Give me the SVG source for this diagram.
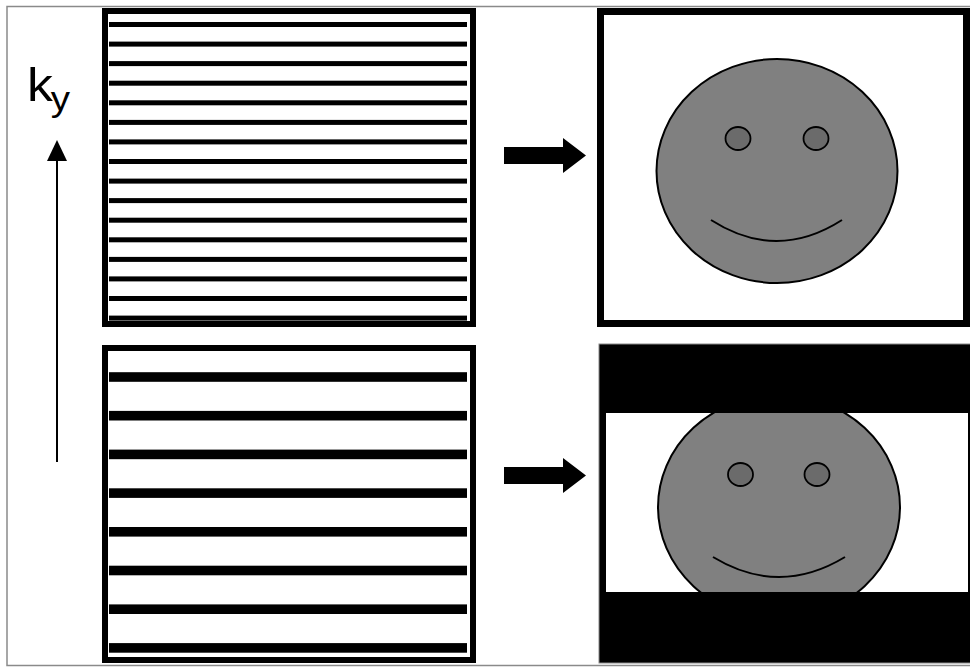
<svg xmlns="http://www.w3.org/2000/svg" width="970" height="667" viewBox="0 0 970 667">
  <style>
    .frame { fill: #ffffff; stroke: #8a8a8a; stroke-width: 1.5; }
    .panel { fill: #ffffff; stroke: #000000; stroke-width: 6; }
    .line { fill: #000000; }
    .face { fill: #808080; stroke: #000000; stroke-width: 2; }
    .eye { fill: #6b6b6b; stroke: #000000; stroke-width: 1.8; }
    .smile { fill: none; stroke: #000000; stroke-width: 2; }
    .label { font-family: "Liberation Sans", Arial, sans-serif; fill: #000000; }
    .arrow { fill: #000000; }
  </style>
  <defs>
    <clipPath id="window">
      <rect x="606" y="413" width="362" height="179"/>
    </clipPath>
  </defs>

  <!-- outer frame -->
  <rect class="frame" x="7" y="6.5" width="970" height="659"/>

  <!-- k-space axis -->
  <g id="axis">
    <text class="label" x="27" y="101" font-size="47" transform="translate(27,0) scale(1.1,1) translate(-27,0)">k<tspan font-size="35" dy="10" dx="-2">y</tspan></text>
    <line x1="57" y1="158" x2="57" y2="462" stroke="#000000" stroke-width="2"/>
    <polygon class="arrow" points="57,140 47,161 67,161"/>
  </g>

  <!-- fully sampled k-space -->
  <g id="kspace-full">
    <rect class="panel" x="105" y="11" width="368" height="313"/>
    <g class="line">
      <rect x="109" y="22" width="358" height="5"/>
      <rect x="109" y="41.6" width="358" height="5"/>
      <rect x="109" y="61.1" width="358" height="5"/>
      <rect x="109" y="80.7" width="358" height="5"/>
      <rect x="109" y="100.3" width="358" height="5"/>
      <rect x="109" y="119.9" width="358" height="5"/>
      <rect x="109" y="139.4" width="358" height="5"/>
      <rect x="109" y="159" width="358" height="5"/>
      <rect x="109" y="178.6" width="358" height="5"/>
      <rect x="109" y="198.1" width="358" height="5"/>
      <rect x="109" y="217.7" width="358" height="5"/>
      <rect x="109" y="237.3" width="358" height="5"/>
      <rect x="109" y="256.9" width="358" height="5"/>
      <rect x="109" y="276.4" width="358" height="5"/>
      <rect x="109" y="296" width="358" height="5"/>
      <rect x="109" y="315.6" width="358" height="5"/>
    </g>
  </g>

  <!-- undersampled k-space -->
  <g id="kspace-under">
    <rect class="panel" x="105" y="348" width="368" height="312"/>
    <g class="line">
      <rect x="109" y="372.2" width="358" height="9.6"/>
      <rect x="109" y="410.9" width="358" height="9.6"/>
      <rect x="109" y="449.6" width="358" height="9.6"/>
      <rect x="109" y="488.3" width="358" height="9.6"/>
      <rect x="109" y="527" width="358" height="9.6"/>
      <rect x="109" y="565.7" width="358" height="9.6"/>
      <rect x="109" y="604.4" width="358" height="9.6"/>
      <rect x="109" y="643.1" width="358" height="9.6"/>
    </g>
  </g>

  <!-- reconstruction arrows -->
  <g id="arrows">
    <polygon class="arrow" points="504,147 563,147 563,138 586,155.5 563,173 563,164 504,164"/>
    <polygon class="arrow" points="504,467 563,467 563,458 586,475.5 563,493 563,484 504,484"/>
  </g>

  <!-- full field of view image -->
  <g id="image-full">
    <rect x="600.5" y="11.5" width="366" height="312" fill="#ffffff" stroke="#000000" stroke-width="7"/>
    <ellipse class="face" cx="777" cy="171" rx="120.5" ry="112"/>
    <ellipse class="eye" cx="738" cy="138.5" rx="12.5" ry="11.5"/>
    <ellipse class="eye" cx="816" cy="138.5" rx="12.5" ry="11.5"/>
    <path class="smile" d="M711,220 Q776.5,262 842,220"/>
  </g>

  <!-- reduced field of view image -->
  <g id="image-reduced">
    <rect x="599" y="344" width="380" height="319" fill="#000000" stroke="#8a8a8a" stroke-width="1"/>
    <rect x="606" y="413" width="362" height="179" fill="#ffffff"/>
    <g clip-path="url(#window)">
      <ellipse class="face" cx="779" cy="507" rx="121" ry="112"/>
      <ellipse class="eye" cx="740.5" cy="474.5" rx="12.5" ry="11.5"/>
      <ellipse class="eye" cx="817" cy="474.5" rx="12.5" ry="11.5"/>
      <path class="smile" d="M713,557 Q779,597 845,557"/>
    </g>
  </g>
</svg>
